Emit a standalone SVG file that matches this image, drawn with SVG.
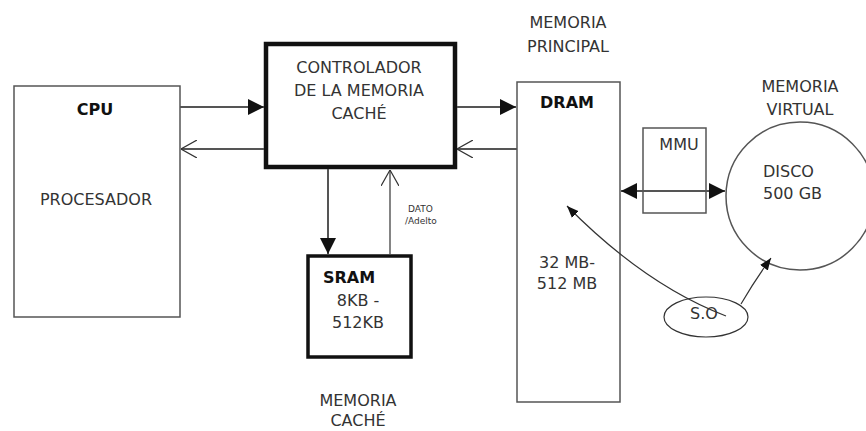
<svg xmlns="http://www.w3.org/2000/svg" width="866" height="431" viewBox="0 0 866 431">
<defs>
<marker id="fill" viewBox="0 0 10 10" refX="10" refY="5" markerWidth="12" markerHeight="12" markerUnits="userSpaceOnUse" orient="auto"><path d="M0,1 L10,5 L0,9 Z" fill="#111"/></marker>
<marker id="fillL" viewBox="0 0 16 16" refX="16" refY="8" markerWidth="16" markerHeight="16" markerUnits="userSpaceOnUse" orient="auto"><path d="M0,0 L16,8 L0,16 Z" fill="#111"/></marker>
<marker id="open" viewBox="0 0 16 18" refX="16" refY="9" markerWidth="16" markerHeight="18" markerUnits="userSpaceOnUse" orient="auto"><path d="M0,0 L16,9 L0,18" fill="none" stroke="#333" stroke-width="1.2"/></marker>
</defs>
<style>
text{font-family:"DejaVu Sans","Liberation Sans",sans-serif;font-size:16px;fill:#333;}
.b{font-weight:bold;fill:#111;}
.s{font-size:9px;}
.box{fill:#fff;stroke:#555;stroke-width:1.5;}
.thick{fill:#fff;stroke:#111;stroke-width:4.5;}
.mid{fill:#fff;stroke:#111;stroke-width:3.5;}
.ln{fill:none;stroke:#555;stroke-width:2;}
.thin{fill:none;stroke:#333;stroke-width:1.2;}
</style>
<rect width="866" height="431" fill="#fff"/>
<g id="cpu">
<rect class="box" x="14" y="86" width="166" height="231"/>
<text class="b" x="95" y="115" text-anchor="middle">CPU</text>
<text x="96" y="205" text-anchor="middle">PROCESADOR</text>
</g>
<g id="controlador">
<rect class="thick" x="266" y="44" width="189" height="123"/>
<text x="359" y="73" text-anchor="middle">CONTROLADOR</text>
<text x="359" y="96" text-anchor="middle">DE LA MEMORIA</text>
<text x="359" y="119" text-anchor="middle">CACHÉ</text>
</g>
<g id="sram">
<rect class="mid" x="308" y="256" width="103" height="101"/>
<text class="b" x="323" y="283">SRAM</text>
<text x="358" y="306" text-anchor="middle">8KB -</text>
<text x="358" y="328" text-anchor="middle">512KB</text>
</g>
<g id="dram">
<rect class="box" x="517" y="82" width="103" height="320"/>
<text class="b" x="567" y="108" text-anchor="middle">DRAM</text>
<text x="567" y="268" text-anchor="middle">32 MB-</text>
<text x="567" y="289" text-anchor="middle">512 MB</text>
</g>
<g id="mmu">
<rect class="box" x="643" y="128" width="63" height="85"/>
<text x="679" y="150" text-anchor="middle">MMU</text>
</g>
<g id="disco">
<circle class="box" cx="800" cy="196" r="74"/>
<text x="763" y="177">DISCO</text>
<text x="763" y="199">500 GB</text>
</g>
<g id="so">
<ellipse class="thin" cx="706" cy="317" rx="42" ry="20"/>
<text x="704" y="319" text-anchor="middle">S.O</text>
</g>
<g id="labels">
<text x="568" y="28" text-anchor="middle">MEMORIA</text>
<text x="568" y="52" text-anchor="middle">PRINCIPAL</text>
<text x="800" y="92" text-anchor="middle">MEMORIA</text>
<text x="800" y="115" text-anchor="middle">VIRTUAL</text>
<text x="358" y="406" text-anchor="middle">MEMORIA</text>
<text x="358" y="426" text-anchor="middle">CACHÉ</text>
<text class="s" x="408" y="212">DATO</text>
<text class="s" x="405" y="224">/Adelto</text>
</g>
<g id="connectors">
<line class="ln" x1="180" y1="107" x2="264" y2="107" marker-end="url(#fillL)"/>
<line class="ln" x1="264" y1="149" x2="181" y2="149" marker-end="url(#open)"/>
<line class="ln" x1="457" y1="107" x2="516" y2="107" marker-end="url(#fillL)"/>
<line class="ln" x1="517" y1="149" x2="457" y2="149" marker-end="url(#open)"/>
<line class="ln" x1="328" y1="169" x2="328" y2="254" marker-end="url(#fillL)"/>
<line class="thin" x1="390" y1="254" x2="390" y2="170" marker-end="url(#open)"/>
<line class="ln" x1="672" y1="191" x2="621" y2="191" marker-end="url(#fillL)"/>
<line class="ln" x1="672" y1="191" x2="725" y2="191" marker-end="url(#fillL)"/>
<path class="thin" d="M726,316 Q645,285 567,206" marker-end="url(#fill)"/>
<path class="thin" d="M741,304 Q755,280 771,258" marker-end="url(#fill)"/>
</g>
</svg>
